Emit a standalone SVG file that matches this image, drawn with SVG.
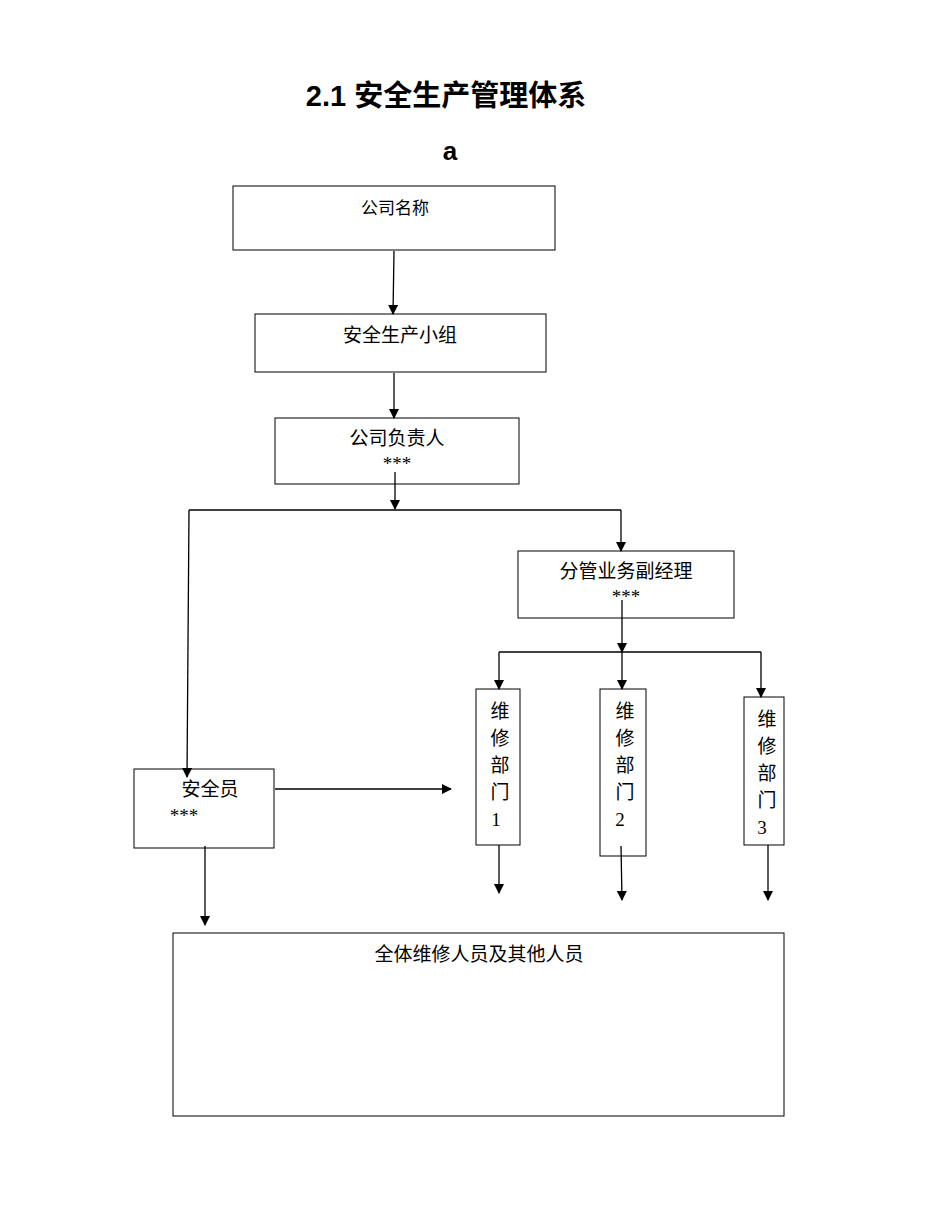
<svg xmlns="http://www.w3.org/2000/svg" width="942" height="1224" viewBox="0 0 942 1224">
<defs>
<marker id="ah" markerWidth="10" markerHeight="10" refX="9" refY="5" orient="auto" markerUnits="userSpaceOnUse"><path d="M0,0 L10,5 L0,10 z" fill="#000"/></marker>
<style>
.b{fill:#fff;stroke:#000;stroke-width:1}
.t{font-family:"Liberation Serif","Noto Sans CJK SC",serif;font-size:19px;fill:#000;text-anchor:middle}
.c{fill:none;stroke:#000;stroke-width:1.3}
.a{marker-end:url(#ah)}
</style>
</defs>
<rect width="942" height="1224" fill="#fff"/>
<text x="446" y="106" font-family="Liberation Sans,Noto Sans CJK SC,sans-serif" font-size="29" font-weight="bold" text-anchor="middle">2.1 安全生产管理体系</text>
<text x="450" y="160" font-family="Liberation Sans,sans-serif" font-size="26" font-weight="bold" text-anchor="middle">a</text>
<g id="n1"><rect class="b" x="233" y="186" width="322" height="64"/><text class="t" x="395" y="214" style="font-size:17px">公司名称</text></g>
<g id="n2"><rect class="b" x="255" y="314" width="291" height="58"/><text class="t" x="400" y="342">安全生产小组</text></g>
<g id="n3"><rect class="b" x="275" y="418" width="244" height="66"/><text class="t" x="397" y="445">公司负责人</text><text class="t" x="397" y="470">***</text></g>
<g id="n4"><rect class="b" x="518" y="551" width="216" height="67"/><text class="t" x="626" y="578">分管业务副经理</text><text class="t" x="626" y="603">***</text></g>
<g id="n5"><rect class="b" x="476" y="689" width="44" height="156"/><text class="t" x="500" y="718">维</text><text class="t" x="500" y="745">修</text><text class="t" x="500" y="772">部</text><text class="t" x="500" y="799">门</text><text class="t" x="496" y="826">1</text></g>
<g id="n6"><rect class="b" x="600" y="689" width="46" height="167"/><text class="t" x="625" y="718">维</text><text class="t" x="625" y="745">修</text><text class="t" x="625" y="772">部</text><text class="t" x="625" y="799">门</text><text class="t" x="620" y="826">2</text></g>
<g id="n7"><rect class="b" x="744" y="697" width="40" height="148"/><text class="t" x="767" y="726">维</text><text class="t" x="767" y="753">修</text><text class="t" x="767" y="780">部</text><text class="t" x="767" y="807">门</text><text class="t" x="762" y="834">3</text></g>
<g id="n8"><rect class="b" x="134" y="769" width="140" height="79"/><text class="t" x="210" y="796">安全员</text><text class="t" x="184" y="822">***</text></g>
<g id="n9"><rect class="b" x="173" y="933" width="611" height="183"/><text class="t" x="479" y="961">全体维修人员及其他人员</text></g>
<g id="conn">
<path class="c a" d="M394,251 L393,314"/>
<path class="c a" d="M394,373 L394,418"/>
<path class="c a" d="M395,472 L395,509"/>
<path class="c" d="M189,510 L621,510"/>
<path class="c a" d="M621,510 L621,551"/>
<path class="c a" d="M189,510 L187,777"/>
<path class="c a" d="M622,600 L622,652"/>
<path class="c" d="M499,652 L761,652"/>
<path class="c a" d="M499,652 L499,689"/>
<path class="c a" d="M622,652 L622,689"/>
<path class="c a" d="M761,652 L761,697"/>
<path class="c a" d="M275,789 L451,789"/>
<path class="c a" d="M499,845 L499,893"/>
<path class="c a" d="M621,846 L622,900"/>
<path class="c a" d="M768,845 L768,900"/>
<path class="c a" d="M205,846 L205,925"/>
</g>
</svg>
